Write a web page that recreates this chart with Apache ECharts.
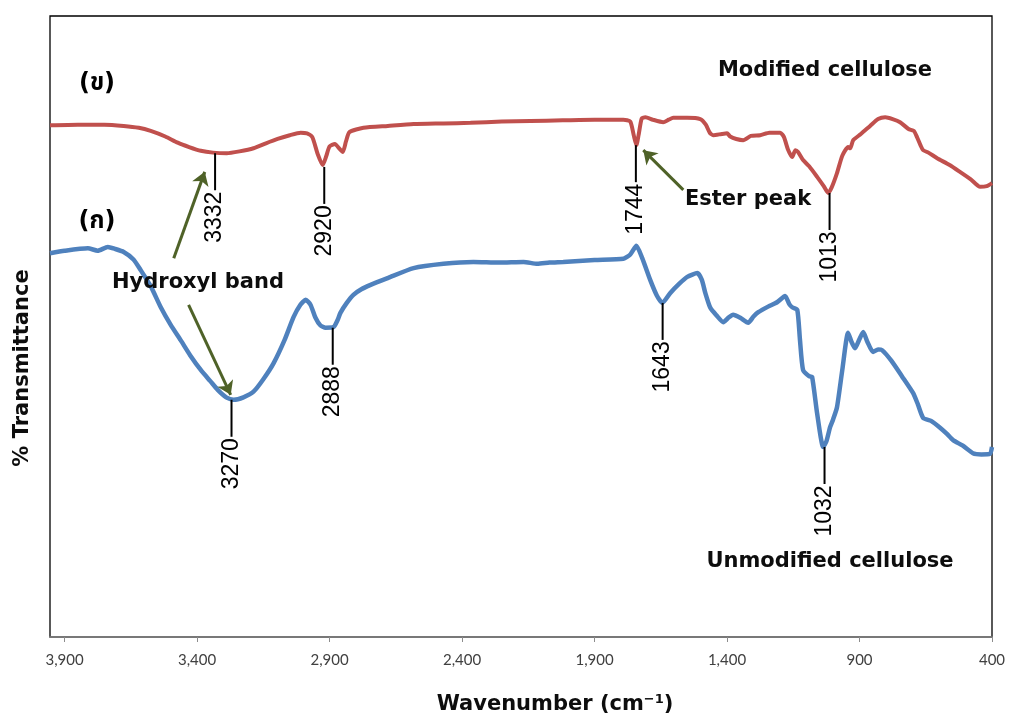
<!DOCTYPE html>
<html>
<head>
<meta charset="utf-8">
<script src="https://cdn.jsdelivr.net/npm/echarts@6/dist/echarts.min.js"></script>
<style>
html,body{margin:0;padding:0;background:#fff;}
#chart{width:1009px;height:720px;}
</style>
</head>
<body>
<div id="chart"></div>
<script>
// ---- data ----
const xTicks = [3900, 3400, 2900, 2400, 1900, 1400, 900, 400];

// Modified cellulose (ข) : [wavenumber, relative %T]
const modified = [
[3955,82.4],[3850,82.5],[3750,82.5],[3677,82.3],[3620,82.0],[3575,81.5],[3520,80.6],[3473,79.6],[3430,78.9],[3386,78.3],
[3340,78.0],[3288,77.9],[3240,78.2],[3187,78.7],[3140,79.5],[3096,80.2],[3050,80.8],[3009,81.2],[2985,81.1],[2965,80.5],
[2945,77.8],[2926,76.0],[2912,77.5],[2900,79.0],[2880,79.4],[2862,78.6],[2850,78.1],[2838,79.8],[2825,81.3],[2772,82.0],
[2680,82.3],[2583,82.6],[2470,82.7],[2368,82.8],[2250,83.0],[2142,83.1],[2020,83.2],[1900,83.3],[1791,83.3],[1765,83.0],
[1752,80.8],[1742,79.2],[1733,81.0],[1722,83.5],[1708,83.7],[1680,83.3],[1641,82.9],[1620,83.3],[1603,83.6],[1550,83.6],
[1501,83.4],[1480,82.5],[1465,81.2],[1452,80.8],[1420,81.0],[1400,81.1],[1388,80.6],[1365,80.2],[1339,80.0],[1310,80.7],
[1275,80.8],[1240,81.2],[1199,81.2],[1185,80.5],[1170,78.5],[1154,77.3],[1142,78.4],[1132,78.1],[1113,76.8],[1090,75.8],
[1060,74.1],[1035,72.6],[1018,71.5],[1005,72.4],[985,74.7],[965,77.5],[943,78.9],[935,78.7],[924,80.0],[895,81.0],
[860,82.3],[830,83.4],[803,83.7],[775,83.4],[747,82.9],[715,81.8],[695,81.5],[683,80.5],[670,79.2],[660,78.4],
[640,78.0],[607,77.1],[560,76.0],[521,74.9],[480,73.7],[445,72.5],[420,72.6],[400,73.1]
];

// Unmodified cellulose (ก)
const unmodified = [
[3955,61.8],[3900,62.2],[3812,62.6],[3775,62.2],[3737,62.8],[3710,62.5],[3677,62.0],[3640,60.8],[3613,59.1],[3575,56.5],
[3537,53.1],[3500,50.3],[3462,47.8],[3425,45.3],[3386,43.0],[3350,41.2],[3322,39.8],[3290,38.6],[3262,38.2],[3225,38.6],
[3187,39.5],[3150,41.5],[3111,44.1],[3070,47.8],[3036,51.5],[3010,53.5],[2990,54.3],[2972,53.5],[2953,51.4],[2935,50.2],
[2915,49.8],[2885,49.9],[2870,51.0],[2859,52.2],[2835,53.8],[2810,55.1],[2780,56.0],[2745,56.7],[2680,57.8],[2583,59.4],
[2470,60.1],[2357,60.4],[2260,60.3],[2168,60.4],[2116,60.1],[2070,60.3],[2018,60.4],[1900,60.7],[1791,60.9],[1765,61.6],
[1742,63.0],[1720,61.0],[1690,57.5],[1665,55.0],[1644,53.8],[1614,55.4],[1580,56.9],[1550,58.0],[1512,58.6],[1495,57.5],
[1482,55.4],[1463,53.0],[1440,51.8],[1414,50.7],[1395,51.4],[1377,51.9],[1350,51.4],[1320,50.6],[1300,51.6],[1282,52.3],
[1245,53.2],[1211,53.9],[1181,54.9],[1165,53.6],[1154,53.1],[1135,52.7],[1125,48.0],[1113,43.0],[1090,42.0],[1079,41.9],
[1060,36.0],[1037,30.6],[1025,31.5],[1011,33.8],[1000,35.0],[985,37.0],[965,43.0],[943,49.0],[930,47.5],[917,46.5],
[900,48.0],[886,49.1],[870,47.5],[849,45.9],[830,46.3],[815,46.2],[780,44.5],[740,42.0],[698,39.3],[680,37.5],
[660,35.3],[630,34.8],[596,33.7],[570,32.7],[547,31.7],[510,30.8],[472,29.6],[440,29.4],[408,29.5],[400,30.6]
];

// peak annotations: [wavenumber, value at curve]
const peakWn    = [3332, 2920, 1744, 1013, 3270, 2888, 1643, 1032];
const peakValue = [77.9, 75.7, 79.2, 71.5, 38.2, 49.8, 53.8, 30.6];
const peakLabel = ['3332','2920','1744','1013','3270','2888','1643','1032'];

// arrows: [fromWn, fromVal, toWn, toVal]
const arrows = [
  [3488, 61.0, 3371, 74.9],
  [3432, 53.5, 3273, 39.0],
  [1565, 72.0, 1716, 78.4]
];

// ---- chart ----
const chart = echarts.init(document.getElementById('chart'));
const annoFont = '"DejaVu Sans", "Noto Sans", sans-serif';
const tickFont = 'Lato, "DejaVu Sans", sans-serif';
const thaiFont = '"DejaVu Sans", "Noto Sans Thai", "Noto Sans", sans-serif';

const option = {
  backgroundColor: '#fff',
  animation: false,
  grid: {left: 50, right: 17, top: 16, bottom: 83, show: true, borderColor: '#000', borderWidth: 1.3, backgroundColor: 'transparent'},
  xAxis: {
    type: 'value', inverse: true, min: 400, max: 3955,
    axisLine: {show: true, lineStyle: {color: '#8c8c8c', width: 1.5}},
    axisTick: {show: true, length: 5, lineStyle: {color: '#8c8c8c'}, customValues: xTicks},
    axisLabel: {customValues: xTicks, color: '#404040', fontSize: 15, fontFamily: tickFont, margin: 16,
      formatter: v => Number(v).toLocaleString('en-US')},
    splitLine: {show: false}
  },
  yAxis: {
    type: 'value', min: 0, max: 100,
    axisLine: {show: false}, axisTick: {show: false}, axisLabel: {show: false}, splitLine: {show: false}
  },
  series: [
    {name: 'Modified cellulose', type: 'line', data: modified, showSymbol: false, smooth: 0.2,
     lineStyle: {color: '#c0504d', width: 4}, z: 3},
    {name: 'Unmodified cellulose', type: 'line', data: unmodified, showSymbol: false, smooth: 0.2,
     lineStyle: {color: '#4f81bd', width: 4.5}, z: 3},
    {type: 'custom', z: 5,
     data: peakWn.map((w, i) => [w, peakValue[i]]),
     renderItem: (params, api) => {
       const p = api.coord([api.value(0), api.value(1)]);
       const len = 37;
       return {type: 'group', children: [
         {type: 'line', shape: {x1: p[0], y1: p[1], x2: p[0], y2: p[1] + len}, style: {stroke: '#000', lineWidth: 2}},
         {type: 'text', x: p[0], y: p[1] + len + 27, rotation: Math.PI / 2,
          style: {text: peakLabel[params.dataIndex], font: '23px "Liberation Sans", Arial, sans-serif', fill: '#000',
                  align: 'center', verticalAlign: 'middle'}}
       ]};
     }},
    {type: 'lines', coordinateSystem: 'cartesian2d', z: 6,
     symbol: ['none', 'arrow'], symbolSize: 13,
     lineStyle: {color: '#4f6228', width: 3, opacity: 1},
     data: arrows.map(a => ({coords: [[a[0], a[1]], [a[2], a[3]]]}))}
  ],
  graphic: [
    {type: 'text', x: 97, y: 84, z: 100, style: {text: '(ข)', font: 'bold 24px ' + thaiFont, fill: '#000', textAlign: 'center', textVerticalAlign: 'middle'}},
    {type: 'text', x: 97, y: 222, z: 100, style: {text: '(ก)', font: 'bold 24px ' + thaiFont, fill: '#000', textAlign: 'center', textVerticalAlign: 'middle'}},
    {type: 'text', x: 825, y: 71, z: 100, style: {text: 'Modified cellulose', font: 'bold 21px ' + annoFont, fill: '#0d0d0d', textAlign: 'center', textVerticalAlign: 'middle'}},
    {type: 'text', x: 830, y: 562, z: 100, style: {text: 'Unmodified cellulose', font: 'bold 21px ' + annoFont, fill: '#0d0d0d', textAlign: 'center', textVerticalAlign: 'middle'}},
    {type: 'text', x: 748, y: 200, z: 100, style: {text: 'Ester peak', font: 'bold 21px ' + annoFont, fill: '#0d0d0d', textAlign: 'center', textVerticalAlign: 'middle'}},
    {type: 'text', x: 198, y: 283, z: 100, style: {text: 'Hydroxyl band', font: 'bold 21px ' + annoFont, fill: '#0d0d0d', textAlign: 'center', textVerticalAlign: 'middle'}},
    {type: 'text', x: 555, y: 705, z: 100, style: {
      text: 'Wavenumber (cm{sup|−1})', font: 'bold 21px ' + annoFont, fill: '#0d0d0d', textAlign: 'center', textVerticalAlign: 'middle',
      rich: {sup: {fontSize: 13, fontWeight: 'bold', fontFamily: annoFont, padding: [0, 0, 10, 0], fill: '#0d0d0d'}}}},
    {type: 'text', x: 23, y: 368, rotation: Math.PI / 2, z: 100, style: {text: '% Transmittance', font: 'bold 21px ' + annoFont, fill: '#0d0d0d', textAlign: 'center', textVerticalAlign: 'middle'}}
  ]
};
chart.setOption(option);
</script>
</body>
</html>
